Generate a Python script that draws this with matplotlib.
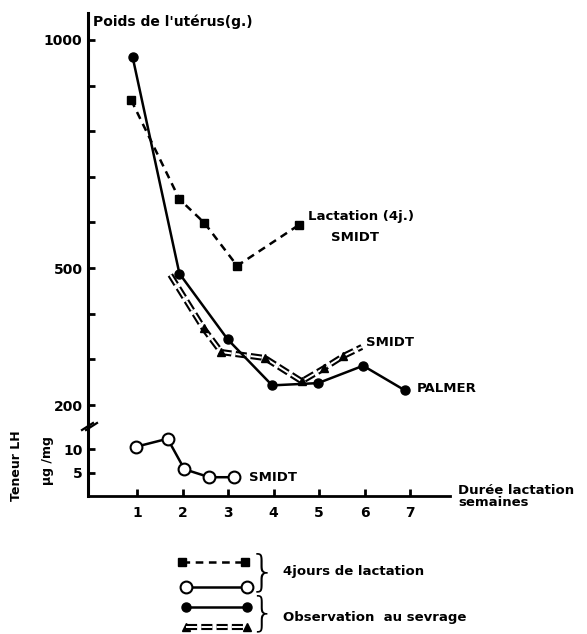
import matplotlib
matplotlib.use("Agg")
import matplotlib.pyplot as plt

plt.rcParams['font.family'] = 'DejaVu Sans'
plt.rcParams['lines.scale_dashes'] = False

# Lactation (4j.) - SMIDT : poids de l'utérus (g)
lact_x = [0.87, 1.93, 2.48, 3.20, 4.55]
lact_y = [868, 651, 599, 505, 594]

# Observation au sevrage - PALMER
palmer_x = [0.90, 1.93, 2.99, 3.97, 4.98, 5.97, 6.89]
palmer_y = [963, 488, 344, 243, 248, 286, 232]

# Observation au sevrage - SMIDT (triangles only on inner points)
smidt_x = [1.73, 2.46, 2.85, 3.81, 4.62, 5.10, 5.53, 5.94]
smidt_y = [485, 368, 316, 303, 252, 280, 307, 327]

# Teneur LH (µg/mg) - SMIDT
lh_x = [0.98, 1.67, 2.04, 2.59, 3.12]
lh_y = [10.5, 12.2, 5.7, 4.0, 4.0]

x_ticks = [1, 2, 3, 4, 5, 6, 7]
weight_ticks = [200, 300, 400, 500, 600, 700, 800, 900, 1000]
weight_labels = ['200', '', '', '500', '', '', '', '', '1000']
lh_ticks = [5, 10]

W, H = 587, 634
fig = plt.figure(figsize=(W / 100, H / 100), dpi=100)

# overlay in pixel units for legend / decorations
ov = fig.add_axes([0, 0, 1, 1])
ov.set_xlim(0, W)
ov.set_ylim(H, 0)
ov.axis('off')

left, right = 88, 450
ax = fig.add_axes([left / W, 1 - 427 / H, (right - left) / W, (427 - 13) / H])
ax_lh = fig.add_axes([left / W, 1 - 496 / H, (right - left) / W, (496 - 427) / H])

xlim = (-0.08, 7.88)
for a in (ax, ax_lh):
    a.set_xlim(*xlim)
    a.patch.set_visible(False)
    for s in ('top', 'right'):
        a.spines[s].set_visible(False)
    a.spines['left'].set_linewidth(2.2)

ax.spines['bottom'].set_visible(False)
ax.set_ylim(151.8, 1059)
ax.set_xticks([])
ax.set_yticks(weight_ticks)
ax.set_yticklabels(weight_labels, fontsize=10, fontweight='bold')
ax.tick_params(axis='y', direction='in', length=5, width=2, pad=4)

ax_lh.set_ylim(0, 14.7)
ax_lh.spines['bottom'].set_linewidth(2)
ax_lh.set_yticks(lh_ticks)
ax_lh.set_yticklabels([str(t) for t in lh_ticks], fontsize=10, fontweight='bold')
ax_lh.tick_params(axis='y', direction='in', length=5, width=2, pad=4)
ax_lh.set_xticks(x_ticks)
ax_lh.set_xticklabels([str(t) for t in x_ticks], fontsize=10, fontweight='bold')
ax_lh.tick_params(axis='x', direction='in', length=5, width=2, pad=7)


def double_line(a, x, y):
    a.plot(x, y, color='black', lw=4.4, dashes=(8, 3), zorder=2)
    a.plot(x, y, color='white', lw=1.4, dashes=(8, 3), zorder=2.1)


# curves
ax.plot(lact_x, lact_y, color='black', lw=1.8, dashes=(5.5, 4),
        marker='s', ms=6, mfc='black', mec='black', zorder=3)
ax.plot(palmer_x, palmer_y, color='black', lw=1.8,
        marker='o', ms=6.5, mfc='black', mec='black', zorder=3)
double_line(ax, smidt_x, smidt_y)
ax.plot(smidt_x[1:-1], smidt_y[1:-1], ls='none', marker='^', ms=6,
        color='black', zorder=3)
ax_lh.plot(lh_x, lh_y, color='black', lw=1.8, marker='o', ms=8.5,
           mfc='white', mec='black', mew=1.5, zorder=3, clip_on=False)

# curve labels
ax.text(4.75, 613, 'Lactation (4j.)', fontsize=9.5, fontweight='bold', va='center')
ax.text(5.79, 568, 'SMIDT', fontsize=9.5, fontweight='bold', va='center', ha='center')
ax.text(6.04, 336, 'SMIDT', fontsize=9.5, fontweight='bold', va='center')
ax.text(7.14, 237, 'PALMER', fontsize=9.5, fontweight='bold', va='center')
ax_lh.text(3.45, 4.0, 'SMIDT', fontsize=9.5, fontweight='bold', va='center')

# axis titles
ov.text(93, 22, "Poids de l'utérus(g.)", fontsize=10, fontweight='bold', va='center')
ov.text(458, 497, 'Durée lactation\nsemaines', fontsize=9.5, fontweight='bold',
        va='center', linespacing=0.9)
ov.text(17, 466, 'Teneur LH', fontsize=9, fontweight='bold', rotation=90,
        ha='center', va='center')
ov.text(47, 461, 'µg /mg', fontsize=9, fontweight='bold', rotation=90,
        ha='center', va='center')

# axis break
for dx in (0, 4):
    ov.plot([82 + dx, 93 + dx], [430, 423], color='black', lw=1.6)

# legend
ov.plot([182, 245], [562, 562], color='black', lw=1.8, dashes=(5.5, 4))
ov.plot([182, 245], [562, 562], ls='none', marker='s', ms=6, color='black')
ov.plot([186, 247], [587, 587], color='black', lw=1.8, marker='o', ms=8.5,
        mfc='white', mec='black', mew=1.5)
ov.plot([186, 247], [607, 607], color='black', lw=1.8, marker='o', ms=6.5)
double_line(ov, [186, 247], [627, 627])
ov.plot([186, 247], [627, 627], ls='none', marker='^', ms=6, color='black')

ov.text(262, 573, '}', fontsize=31, fontweight='light', ha='center', va='center')
ov.text(262, 614, '}', fontsize=29, fontweight='light', ha='center', va='center')
ov.text(283, 572, '4jours de lactation', fontsize=9.5, fontweight='bold', va='center')
ov.text(283, 618, 'Observation  au sevrage', fontsize=9.5, fontweight='bold', va='center')

fig.savefig('out.png', dpi=100)
